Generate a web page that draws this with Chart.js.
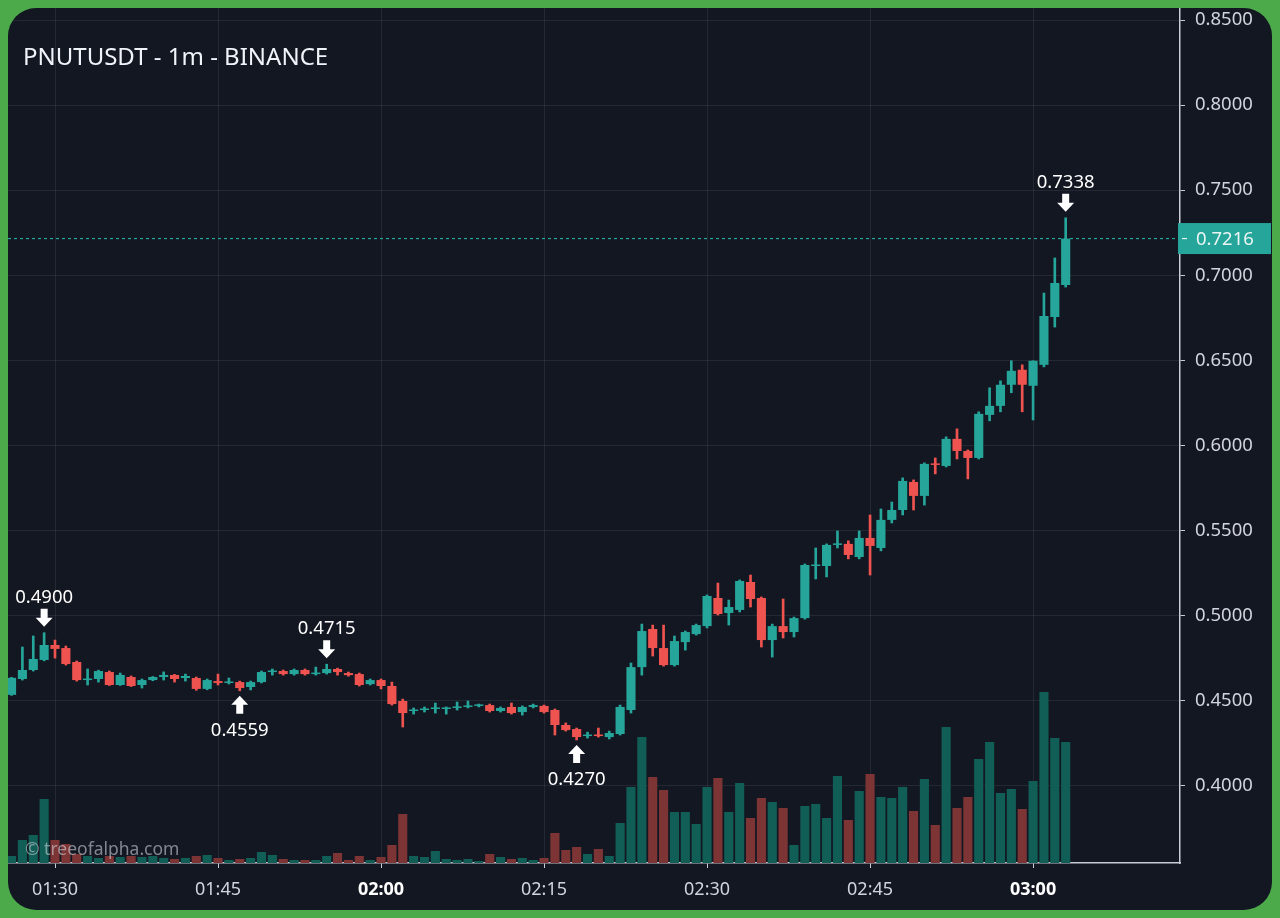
<!DOCTYPE html>
<html>
<head>
<meta charset="utf-8">
<title>PNUTUSDT - 1m - BINANCE</title>
<script src="https://cdn.jsdelivr.net/npm/chart.js@4.4.1/dist/chart.umd.min.js"></script>
<style>
  html, body { margin: 0; padding: 0; width: 1280px; height: 918px; overflow: hidden; background: #4caa4a; font-family: 'Noto Sans', sans-serif; }
  #panel { position: absolute; left: 8px; top: 8px; width: 1264px; height: 902px; background: #131722; border-radius: 28px; overflow: hidden; }
  #title { position: absolute; left: 15px; top: 36px; font-size: 24px; line-height: 24px; color: #f0f3fa; }
  #wm { position: absolute; left: 17px; top: 831px; font-size: 17.5px; line-height: 18px; color: rgba(205, 208, 215, 0.6); }
</style>
</head>
<body>
<div id="panel">
  <canvas id="candleChart"></canvas>
  <div id="title">PNUTUSDT - 1m - BINANCE</div>
  <div id="wm">© treeofalpha.com</div>
</div>
<script>
// minutes since midnight, 01:26 .. 03:03
const minutes = [86,87,88,89,90,91,92,93,94,95,96,97,98,99,100,101,102,103,104,105,106,107,108,109,110,111,112,113,114,115,116,117,118,119,120,121,122,123,124,125,126,127,128,129,130,131,132,133,134,135,136,137,138,139,140,141,142,143,144,145,146,147,148,149,150,151,152,153,154,155,156,157,158,159,160,161,162,163,164,165,166,167,168,169,170,171,172,173,174,175,176,177,178,179,180,181,182,183];

const opens = [.4535,.4628,.4681,.4740,.4828,.4810,.4728,.4622,.4628,.4669,
  .4593,.4640,.4593,.4622,.4640,.4652,.4634,.4634,.4570,.4616,
  .4605,.4610,.4581,.4610,.4669,.4675,.4657,.4681,.4657,.4663,
  .4687,.4663,.4657,.4598,.4622,.4587,.4499,.4440,.4446,.4452,
  .4452,.4458,.4464,.4470,.4475,.4440,.4464,.4434,.4464,.4470,
  .4446,.4358,.4334,.4293,.4299,.4287,.4305,.4446,.4698,.4922,
  .4810,.4710,.4845,.4892,.4939,.5104,.5016,.5034,.5198,.5104,
  .4857,.4939,.4904,.4986,.5292,.5292,.5416,.5422,.5345,.5457,
  .5398,.5563,.5621,.5786,.5704,.5892,.5880,.6039,.5968,.5927,
  .6180,.6233,.6357,.6445,.6351,.6474,.6755,.6943];

const highs = [.4638,.4816,.4881,.4900,.4857,.4822,.4734,.4687,.4680,.4675,
  .4663,.4646,.4628,.4643,.4670,.4655,.4657,.4640,.4628,.4657,
  .4634,.4616,.4616,.4675,.4687,.4681,.4687,.4687,.4698,.4715,
  .4692,.4669,.4663,.4628,.4628,.4610,.4510,.4458,.4464,.4487,
  .4464,.4493,.4499,.4481,.4481,.4464,.4487,.4470,.4481,.4475,
  .4452,.4370,.4340,.4316,.4340,.4322,.4475,.4722,.4951,.4945,
  .4945,.4881,.4910,.4951,.5122,.5192,.5092,.5210,.5239,.5110,
  .4951,.5098,.4992,.5304,.5398,.5422,.5498,.5440,.5498,.5592,
  .5627,.5668,.5810,.5798,.5898,.5927,.6051,.6098,.5974,.6198,
  .6339,.6380,.6498,.6474,.6498,.6896,.7102,.7338];

const lows = [.4532,.4622,.4675,.4735,.4751,.4710,.4616,.4593,.4610,.4590,
  .4590,.4584,.4575,.4618,.4622,.4610,.4616,.4562,.4565,.4593,
  .4599,.4559,.4564,.4605,.4651,.4651,.4651,.4651,.4651,.4657,
  .4651,.4645,.4587,.4593,.4570,.4475,.4346,.4422,.4434,.4428,
  .4422,.4446,.4458,.4464,.4434,.4434,.4422,.4416,.4458,.4428,
  .4299,.4322,.4270,.4281,.4287,.4276,.4299,.4428,.4651,.4763,
  .4704,.4704,.4798,.4886,.4928,.5004,.4945,.5022,.5051,.4816,
  .4757,.4869,.4875,.4980,.5216,.5228,.5398,.5334,.5334,.5239,
  .5381,.5545,.5592,.5621,.5650,.5833,.5874,.5921,.5804,.5921,
  .6145,.6198,.6310,.6198,.6150,.6462,.6696,.6931];

const closes = [.4635,.4681,.4746,.4828,.4805,.4716,.4622,.4628,.4675,.4593,
  .4652,.4587,.4622,.4640,.4652,.4628,.4646,.4570,.4622,.4605,
  .4610,.4575,.4610,.4669,.4675,.4657,.4681,.4657,.4663,.4687,
  .4669,.4651,.4593,.4622,.4587,.4481,.4428,.4446,.4452,.4458,
  .4458,.4464,.4470,.4470,.4440,.4458,.4428,.4464,.4475,.4434,
  .4358,.4328,.4287,.4299,.4293,.4311,.4464,.4698,.4910,.4810,
  .4710,.4851,.4904,.4945,.5116,.5010,.5051,.5204,.5098,.4857,
  .4939,.4904,.4986,.5298,.5298,.5416,.5422,.5357,.5457,.5410,
  .5563,.5621,.5792,.5704,.5892,.5886,.6039,.5968,.5927,.6186,
  .6233,.6357,.6439,.6357,.6498,.6761,.6955,.7216];

// relative volume per candle
const volumes = [7,23,28,64,23,19,9,7,5,7,
  6,7,6,7,5,4,5,7,8,5,
  3,4,5,11,8,4,3,3,3,7,
  10,3,7,3,6,18,49,7,6,12,
  4,3,4,2,9,6,4,5,3,5,
  30,13,16,9,14,7,40,76,126,86,
  73,51,51,39,76,85,51,80,45,65,
  61,55,18,57,59,45,87,43,72,89,
  66,65,76,52,84,38,136,55,66,104,
  121,70,74,54,82,171,125,121];

const priceTicks = [0.40, 0.45, 0.50, 0.55, 0.60, 0.65, 0.70, 0.75, 0.80, 0.85];
const timeTicks = [90, 105, 120, 135, 150, 165, 180];

// high / low callouts: candle index and which end
const markerIdx = [3, 21, 29, 52, 97];
const markerSide = ['high', 'low', 'high', 'low', 'high'];

const UP = '#26a69a', DOWN = '#ef5350';
const VOL_UP = '#115e57', VOL_DOWN = '#7d3434';
const GRID = 'rgba(255,255,255,0.075)';
const AXIS = '#c9ccd4';
const LABEL = '#d1d4dc';
const FONT = "'Noto Sans', sans-serif";

const isUp = i => closes[i] >= opens[i];
const lastPrice = closes[closes.length - 1];

function hhmm(v) {
  const h = Math.floor(v / 60), m = v % 60;
  return String(h).padStart(2, '0') + ':' + String(m).padStart(2, '0');
}

function arrow(ctx, cx, tipY, dir) {
  // dir 1 = points down, -1 = points up
  const len = 18, head = 9, hw = 8.5, sw = 3.5;
  const baseY = tipY - dir * len, neckY = tipY - dir * head;
  ctx.beginPath();
  ctx.moveTo(cx, tipY);
  ctx.lineTo(cx - hw, neckY);
  ctx.lineTo(cx - sw, neckY);
  ctx.lineTo(cx - sw, baseY);
  ctx.lineTo(cx + sw, baseY);
  ctx.lineTo(cx + sw, neckY);
  ctx.lineTo(cx + hw, neckY);
  ctx.closePath();
  ctx.fill();
}

const overlay = {
  id: 'overlay',
  beforeDatasetsDraw(chart) {
    const { ctx, chartArea: a, scales: { y } } = chart;
    const py = y.getPixelForValue(lastPrice);
    ctx.save();
    ctx.strokeStyle = UP;
    ctx.lineWidth = 1.2;
    ctx.setLineDash([3, 3]);
    ctx.beginPath();
    ctx.moveTo(a.left, py);
    ctx.lineTo(a.right, py);
    ctx.stroke();
    ctx.restore();
  },
  afterDraw(chart) {
    const { ctx, chartArea: a, scales: { x, y } } = chart;
    ctx.save();
    // last price tag
    const py = y.getPixelForValue(lastPrice);
    ctx.fillStyle = UP;
    ctx.fillRect(a.right - 2, py - 15.5, 93, 31);
    ctx.fillStyle = '#e9f5f3';
    ctx.fillRect(a.right + 2, py - 0.6, 5, 1.2);
    ctx.font = '18.5px ' + FONT;
    ctx.textBaseline = 'middle';
    ctx.textAlign = 'left';
    ctx.fillText(lastPrice.toFixed(4), a.right + 16, py + 1);

    // high / low callouts
    ctx.fillStyle = '#ffffff';
    ctx.textAlign = 'center';
    markerIdx.forEach((i, k) => {
      const px = x.getPixelForValue(minutes[i]);
      if (markerSide[k] === 'high') {
        const hy = y.getPixelForValue(highs[i]);
        arrow(ctx, px, hy - 6, 1);
        ctx.fillText(highs[i].toFixed(4), px, hy - 35);
      } else {
        const ly = y.getPixelForValue(lows[i]);
        arrow(ctx, px, ly + 5, -1);
        ctx.fillText(lows[i].toFixed(4), px, ly + 40);
      }
    });
    ctx.restore();
  }
};

const noPad = s => { s.paddingTop = 0; s.paddingBottom = 0; s.paddingLeft = 0; s.paddingRight = 0; };

const candleChart = new Chart(document.getElementById('candleChart').getContext('2d'), {
  type: 'bar',
  data: {
    datasets: [
      {
        label: 'Body',
        data: minutes.map((m, i) => ({ x: m, y: [opens[i], closes[i]] })),
        backgroundColor: minutes.map((m, i) => isUp(i) ? UP : DOWN),
        grouped: false,
        categoryPercentage: 1,
        barPercentage: 0.84,
        minBarLength: 1.5,
        borderWidth: 0,
        yAxisID: 'y'
      },
      {
        label: 'Wick',
        data: minutes.map((m, i) => ({ x: m, y: [lows[i], highs[i]] })),
        backgroundColor: minutes.map((m, i) => isUp(i) ? UP : DOWN),
        grouped: false,
        barThickness: 2,
        borderWidth: 0,
        yAxisID: 'y'
      },
      {
        label: 'Volume',
        data: minutes.map((m, i) => ({ x: m, y: volumes[i] })),
        backgroundColor: minutes.map((m, i) => isUp(i) ? VOL_UP : VOL_DOWN),
        grouped: false,
        categoryPercentage: 1,
        barPercentage: 0.84,
        borderWidth: 0,
        yAxisID: 'yv'
      }
    ]
  },
  options: {
    responsive: true,
    maintainAspectRatio: false,
    animation: false,
    events: [],
    layout: { padding: 0 },
    plugins: {
      legend: { display: false },
      tooltip: { enabled: false },
      title: { display: false }
    },
    scales: {
      x: {
        type: 'linear',
        offset: false,
        min: 85.675,
        max: 193.52,
        grid: { offset: false, color: GRID, tickColor: AXIS, tickLength: 5 },
        border: { color: AXIS, width: 1.5 },
        ticks: {
          autoSkip: false,
          maxRotation: 0,
          padding: 11,
          color: c => (c.tick && c.tick.value % 60 === 0) ? '#ffffff' : LABEL,
          font: c => ({ family: FONT, size: 18, weight: (c.tick && c.tick.value % 60 === 0) ? '700' : '400' }),
          callback: v => hhmm(v)
        },
        afterBuildTicks: s => { s.ticks = timeTicks.map(v => ({ value: v })); },
        afterFit: s => { s.height = 47; noPad(s); }
      },
      y: {
        position: 'right',
        min: 0.35471,
        max: 0.85706,
        grid: { color: GRID, tickColor: AXIS, tickLength: 5 },
        border: { color: AXIS, width: 1.5 },
        ticks: {
          padding: 10,
          color: LABEL,
          font: { family: FONT, size: 18.5 },
          callback: v => v.toFixed(4)
        },
        afterBuildTicks: s => { s.ticks = priceTicks.map(v => ({ value: v })); },
        afterFit: s => { s.width = 92; noPad(s); }
      },
      yv: {
        display: false,
        min: 0,
        max: 855
      }
    }
  },
  plugins: [overlay]
});
</script>
</body>
</html>
